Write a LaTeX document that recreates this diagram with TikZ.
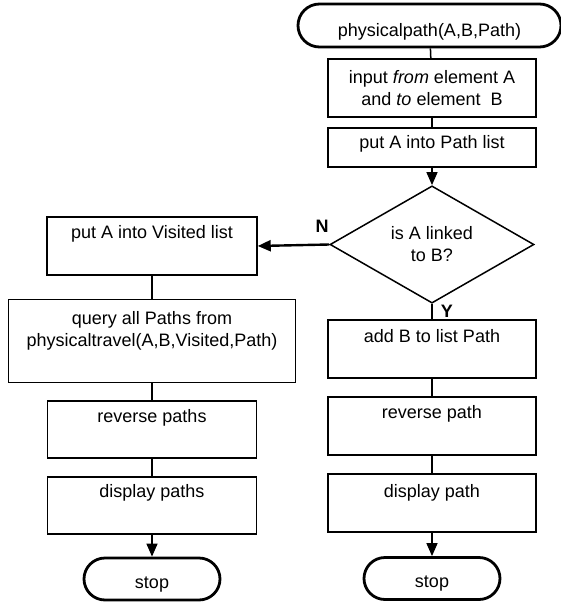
\documentclass[tikz,border=0pt]{standalone}
\usepackage{fontspec}
\setmainfont{Liberation Sans}
\usetikzlibrary{shapes.geometric,arrows.meta,positioning}
\tikzset{
  box/.style={draw,line width=1.5pt,inner sep=0pt,minimum width=208,minimum height=58},
  term/.style={draw,line width=2.8pt,rounded corners=21pt,inner sep=0pt,minimum width=136,minimum height=42,
    text height=22pt,text depth=4pt},
  decide/.style={draw,diamond,line width=1.5pt,inner sep=0pt,align=center,minimum width=204,minimum height=112},
  txt/.style={inner sep=0pt,align=center},
  lbl/.style={inner sep=0pt,font=\fontsize{18}{22}\selectfont\bfseries},
}
\begin{document}
\begin{tikzpicture}[x=1pt,y=-1pt,line width=1.5pt,>={Triangle[length=13pt,width=11pt]},
  font=\fontsize{18}{22}\selectfont]
  \useasboundingbox (0,0) rectangle (561,605);
  \node[term,minimum width=263,minimum height=43,rounded corners=21.5pt,text height=25pt] (start) at (429.5,25.5) {physicalpath(A,B,Path)};
  \node[box] (input) at (432,88) {};
  \node[txt,below=11pt of input.north] {input \textit{from} element A\\and \textit{to} element\ \ B};
  \node[box,minimum height=39] (putpath) at (432,147.5) {};
  \node[txt,below=7pt of putpath.north] {put A into Path list};
  \node[decide] (linked) at (432,244.5) {is A linked\\to B?};
  \node[box] (addB) at (432,349) {};
  \node[txt,below=9pt of addB.north] {add B to list Path};
  \node[box] (revone) at (432,426) {};
  \node[txt,below=8pt of revone.north] {reverse path};
  \node[box] (dispone) at (432,503) {};
  \node[txt,below=10pt of dispone.north] {display path};
  \node[term] (stopone) at (432,578.5) {stop};
  %\node[box] (visited) at (152,246) {};
  \node[box,minimum width=210] (visited) at (152,246) {};
  \node[txt,below=8pt of visited.north] {put A into Visited list};
  \node[box,minimum width=287,minimum height=83] (query) at (152,341) {};
  \node[txt,below=12pt of query.north] {query all Paths from\\physicaltravel(A,B,Visited,Path)};
  \node[box,minimum width=209,minimum height=57] (revall) at (152,429.5) {};
  \node[txt,below=8pt of revall.north] {reverse paths};
  \node[box,minimum width=209,minimum height=57] (dispall) at (152,505.5) {};
  \node[txt,below=7pt of dispall.north] {display paths};
  \node[term] (stoptwo) at (152,579) {stop};
  \draw (start) -- (input);
  \draw (input) -- (putpath);
  \draw[->] (putpath) -- (linked);
  \draw[->,line width=2.4pt] (linked.west) -- (visited.east) node[lbl,pos=0.1,above=11pt] {N};
  \draw (linked.south) -- (addB.north) node[lbl,pos=0,anchor=north west,xshift=8pt] {Y};
  \draw (addB) -- (revone);
  \draw (revone) -- (dispone);
  \draw[->] (dispone) -- (stopone);
  \draw (visited) -- (query);
  \draw (query) -- (revall);
  \draw (revall) -- (dispall);
  \draw[->] (dispall) -- (stoptwo);
\end{tikzpicture}
\end{document}
